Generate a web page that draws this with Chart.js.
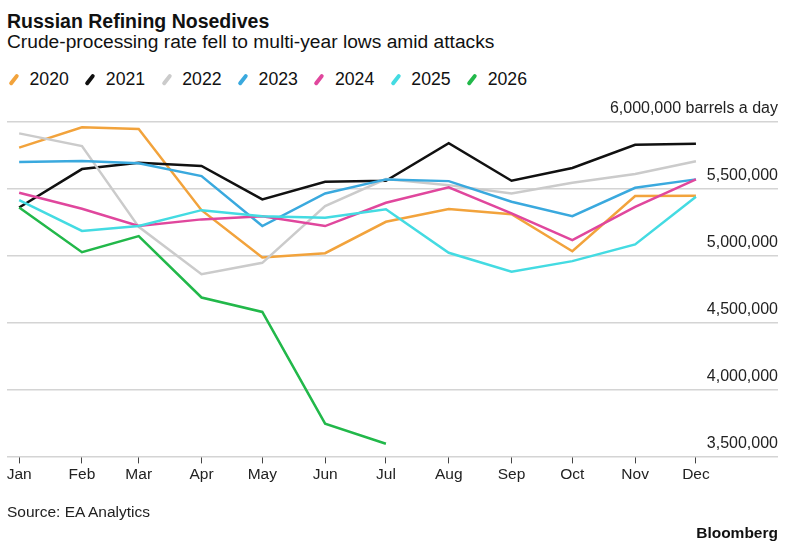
<!DOCTYPE html>
<html lang="en">
<head>
  <meta charset="UTF-8">
  <title>Russian Refining Nosedives</title>
  <script src="https://cdn.jsdelivr.net/npm/chart.js"></script>
  <style>
    body {
      margin: 0;
      background: #fff;
      font-family: "Liberation Sans", Arial, sans-serif;
      color: #111;
    }
    .page {
      position: relative;
      width: 798px;
      height: 546px;
      overflow: hidden;
    }
    .abs {
      position: absolute;
      white-space: nowrap;
      line-height: 1;
    }
    #title { left: 7px; top: 11.5px; font-size: 19.5px; font-weight: bold; }
    #subtitle { left: 7px; top: 32px; font-size: 19.2px; }
    #legend { left: 7px; top: 70.5px; font-size: 17.7px; display: flex; }
    .item { display: flex; align-items: center; margin-right: 14.5px; }
    .mark {
      display: inline-block;
      width: 3.5px;
      height: 13px;
      border-radius: 2px;
      transform: rotate(38deg);
      margin: 0 14px 0 5px;
    }
    #source { left: 7px; top: 504px; font-size: 15.5px; color: #222; }
    #brand { right: 20px; top: 525px; font-size: 15.5px; font-weight: bold; }
    #chartBox { position: absolute; left: 0; top: 0; width: 798px; height: 546px; }
  </style>
</head>
<body>
<div class="page">
  <div class="abs" id="title">Russian Refining Nosedives</div>
  <div class="abs" id="subtitle">Crude-processing rate fell to multi-year lows amid attacks</div>
  <div class="abs" id="legend"></div>
  <div id="chartBox"><canvas id="chart"></canvas></div>
  <div class="abs" id="source">Source: EA Analytics</div>
  <div class="abs" id="brand">Bloomberg</div>
</div>

<script>
const monthLabels = ['Jan', 'Feb', 'Mar', 'Apr', 'May', 'Jun', 'Jul', 'Aug', 'Sep', 'Oct', 'Nov', 'Dec'];
// day of year each month starts on, so the axis is spaced like a real calendar
const monthDays = [0, 31, 59, 90, 120, 151, 181, 212, 243, 273, 304, 334];
const yTicks = [3500000, 4000000, 4500000, 5000000, 5500000, 6000000];

const years = ['2020', '2021', '2022', '2023', '2024', '2025', '2026'];
const values2020 = [5808000, 5960000, 5948000, 5341000, 4987000, 5019000, 5254000, 5349000, 5311000, 5034000, 5446000, 5448000];
const values2021 = [5361000, 5648000, 5695000, 5671000, 5421000, 5553000, 5561000, 5841000, 5561000, 5656000, 5830000, 5838000];
const values2022 = [5915000, 5820000, 5216000, 4862000, 4947000, 5371000, 5573000, 5528000, 5466000, 5546000, 5611000, 5706000];
const values2023 = [5701000, 5708000, 5691000, 5596000, 5222000, 5466000, 5571000, 5558000, 5404000, 5296000, 5508000, 5571000];
const values2024 = [5471000, 5351000, 5222000, 5272000, 5296000, 5222000, 5396000, 5511000, 5317000, 5117000, 5366000, 5571000];
const values2025 = [5416000, 5186000, 5222000, 5341000, 5296000, 5284000, 5347000, 5022000, 4880000, 4960000, 5085000, 5441000];
const values2026 = [5361000, 5027000, 5147000, 4688000, 4580000, 3745000, 3595000];

const seriesValues = [values2020, values2021, values2022, values2023, values2024, values2025, values2026];
const seriesColors = ['#f2a33c', '#111111', '#cbcbcb', '#3aa9de', '#e0479d', '#44dbe2', '#22b84a'];

// legend in html, Bloomberg style diagonal marks
const legend = document.getElementById('legend');
years.forEach((y, i) => {
  const item = document.createElement('div');
  item.className = 'item';
  const mark = document.createElement('span');
  mark.className = 'mark';
  mark.style.background = seriesColors[i];
  const label = document.createElement('span');
  label.innerText = y;
  item.appendChild(mark);
  item.appendChild(label);
  legend.appendChild(item);
});

const datasets = years.map((y, i) => ({
  label: y,
  data: seriesValues[i].map((v, m) => ({ x: monthDays[m], y: v })),
  borderColor: seriesColors[i],
  backgroundColor: seriesColors[i],
  borderWidth: 2.5,
  pointRadius: 0,
  tension: 0,
  order: years.length - i
}));

function fmt(v) {
  return v.toLocaleString('en-US');
}

new Chart(document.getElementById('chart'), {
  type: 'line',
  data: { datasets },
  options: {
    responsive: true,
    maintainAspectRatio: false,
    animation: false,
    layout: { padding: { left: 7, right: 20, top: 122, bottom: 60 } },
    plugins: {
      legend: { display: false },
      tooltip: { enabled: false }
    },
    scales: {
      x: {
        type: 'linear',
        min: -6,
        max: 374.5,
        afterBuildTicks: (scale) => {
          scale.ticks = monthDays.map(d => ({ value: d }));
        },
        ticks: {
          autoSkip: false,
          maxRotation: 0,
          padding: 2,
          color: '#222',
          font: { family: 'Liberation Sans', size: 15.5 },
          callback: (v) => monthLabels[monthDays.indexOf(v)]
        },
        grid: {
          drawOnChartArea: false,
          drawTicks: true,
          tickLength: 7,
          color: '#444',
          lineWidth: 1
        },
        border: { display: false }
      },
      y: {
        position: 'right',
        min: 3500000,
        max: 6000000,
        afterBuildTicks: (scale) => {
          scale.ticks = yTicks.map(v => ({ value: v }));
        },
        ticks: {
          mirror: true,
          padding: 0,
          labelOffset: -13,
          color: '#222',
          font: { family: 'Liberation Sans', size: 16 },
          callback: (v) => v === 6000000 ? fmt(v) + ' barrels a day' : fmt(v)
        },
        grid: {
          drawTicks: false,
          color: '#d4d4d4',
          lineWidth: 1.6
        },
        border: { display: false }
      }
    }
  }
});
</script>
</body>
</html>
